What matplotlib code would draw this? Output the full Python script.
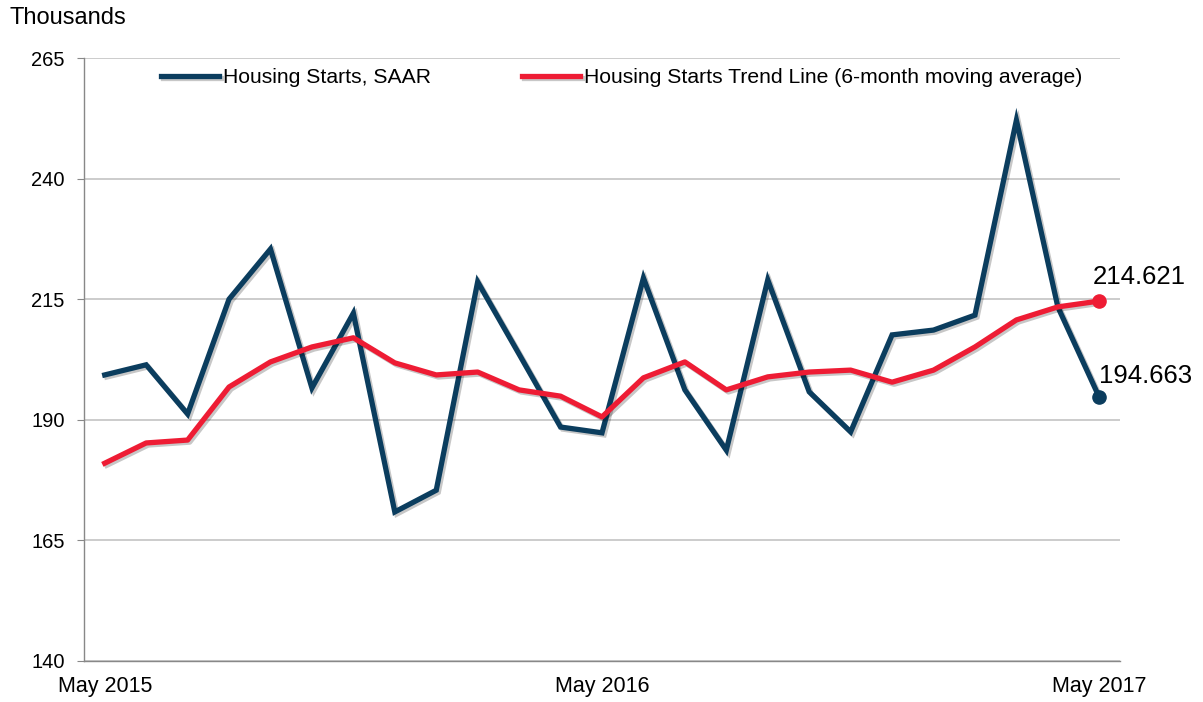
import matplotlib
matplotlib.use("Agg")
import matplotlib.pyplot as plt
import matplotlib.patheffects as pe

plt.rcParams['font.family'] = ['Liberation Sans', 'DejaVu Sans']

months = ["May 2015", "Jun 2015", "Jul 2015", "Aug 2015", "Sep 2015", "Oct 2015", "Nov 2015",
          "Dec 2015", "Jan 2016", "Feb 2016", "Mar 2016", "Apr 2016", "May 2016", "Jun 2016",
          "Jul 2016", "Aug 2016", "Sep 2016", "Oct 2016", "Nov 2016", "Dec 2016", "Jan 2017",
          "Feb 2017", "Mar 2017", "Apr 2017", "May 2017"]
starts = [199.3, 201.4, 191.2, 215.0, 225.4, 196.6, 212.1, 170.9, 175.4, 218.6, 203.6, 188.5,
          187.3, 219.4, 196.2, 183.7, 219.0, 195.8, 187.5, 207.6, 208.6, 211.7, 252.1, 213.4, 194.663]
trend = [181.0, 185.2, 185.8, 196.8, 202.0, 205.1, 207.0, 201.8, 199.3, 199.9, 196.2, 194.9,
         190.6, 198.7, 202.0, 196.2, 198.9, 199.9, 200.3, 197.8, 200.3, 205.1, 210.7, 213.4, 214.621]
tick_labels = ["May 2015", "May 2016", "May 2017"]
yticks = [140, 165, 190, 215, 240, 265]

blue = "#0b3d5e"
red = "#ee1c34"

fig = plt.figure(figsize=(12.03, 7.02), dpi=100)
ax = fig.add_axes([84/1203, 1 - 661/702, (1120-84)/1203, (661-58)/702])

x = list(range(len(months)))
shadow = [pe.SimpleLineShadow(offset=(1.5, -1.5), alpha=0.22, shadow_color='black'), pe.Normal()]
l1, = ax.plot(x, starts, color=blue, lw=3.8, solid_joinstyle='miter', path_effects=shadow,
              label="Housing Starts, SAAR", zorder=3)
l2, = ax.plot(x, trend, color=red, lw=3.8, solid_joinstyle='round', path_effects=shadow,
              label="Housing Starts Trend Line (6-month moving average)", zorder=4)
ax.plot(x[-1], starts[-1], 'o', color=blue, ms=9.5, zorder=5)
ax.plot(x[-1], trend[-1], 'o', color=red, ms=9.5, zorder=5)

ax.annotate(f"{trend[-1]:.3f}", (x[-1], trend[-1]), xytext=(-5, 12), textcoords='offset points',
            fontsize=18.5, ha='left', va='baseline', color='black')
ax.annotate(f"{starts[-1]:.3f}", (x[-1], starts[-1]), xytext=(0, 10), textcoords='offset points',
            fontsize=18.5, ha='left', va='baseline', color='black')

ax.set_xlim(-0.5, len(months) - 0.5)
ax.set_ylim(140, 265)
ax.set_yticks(yticks)
ax.set_yticklabels([str(v) for v in yticks], fontsize=14.5)
ax.set_xticks([months.index(t) for t in tick_labels])
ax.set_xticklabels(tick_labels, fontsize=15.5)
ax.tick_params(axis='x', length=0, pad=11)
ax.tick_params(axis='y', length=5, color='#888888', pad=9)
ax.grid(axis='y', color='#c8c8c8', lw=1.3)
ax.set_axisbelow(True)
for s in ['top', 'right']:
    ax.spines[s].set_visible(False)
for s in ['left', 'bottom']:
    ax.spines[s].set_color('#888888')
    ax.spines[s].set_linewidth(1.0)

leg = ax.legend(handles=[l1, l2], loc='center', bbox_to_anchor=(0.519, 0.967), ncol=2,
                frameon=False, fontsize=15.2, handlelength=2.75, handletextpad=0.2,
                columnspacing=4.3, borderpad=0, borderaxespad=0)
fig.text(10/1203, 1 - 18/702, "Thousands", fontsize=17, ha='left', va='center')

fig.savefig("out.png", dpi=100)
